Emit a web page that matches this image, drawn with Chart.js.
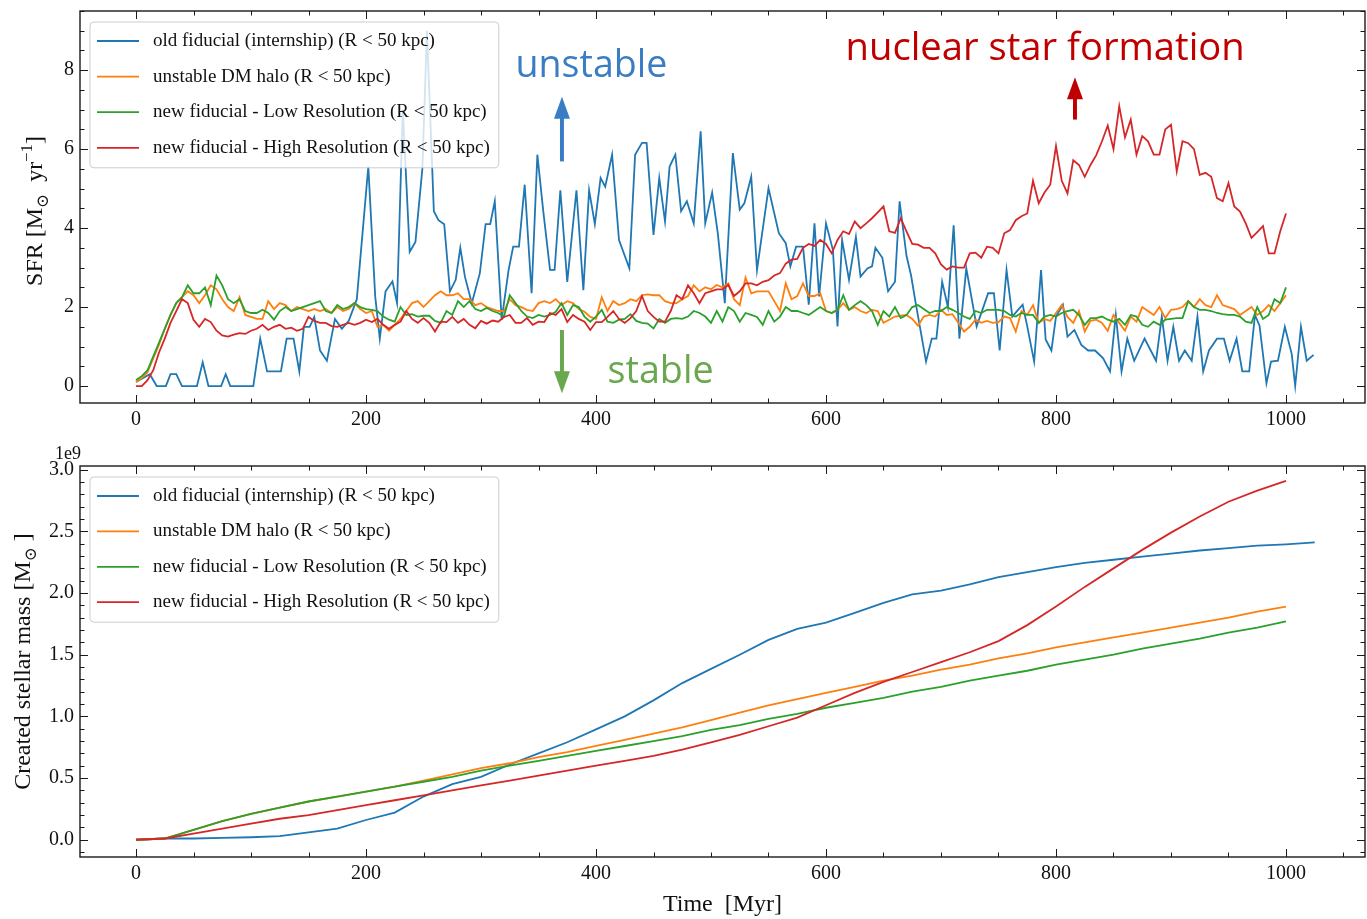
<!DOCTYPE html>
<html>
<head>
<meta charset="utf-8">
<script src="https://cdn.jsdelivr.net/npm/chart.js@4.4.0/dist/chart.umd.min.js"></script>
<style>
  html, body { margin: 0; padding: 0; background: #fff; }
  #wrap { position: relative; width: 1367px; height: 919px; }
  .panel { position: absolute; left: 0; width: 1367px; }
  #top { top: 0; height: 440px; }
  #bottom { top: 440px; height: 479px; }
</style>
</head>
<body>
<div id="wrap">
  <div class="panel" id="top"><canvas id="sfrChart"></canvas></div>
  <div class="panel" id="bottom"><canvas id="massChart"></canvas></div>
</div>
<script>
// ---- data ----
const seriesLabels = [
  'old fiducial (internship) (R < 50 kpc)',
  'unstable DM halo (R < 50 kpc)',
  'new fiducial - Low Resolution (R < 50 kpc)',
  'new fiducial - High Resolution (R < 50 kpc)'
];
const seriesColors = ['#1f77b4', '#ff7f0e', '#2ca02c', '#d62728'];

const xTicks = [0, 200, 400, 600, 800, 1000];
const sfrTicks = [0, 2, 4, 6, 8];
const massTicks = [0, 0.5, 1, 1.5, 2, 2.5, 3];

// old fiducial SFR, read vertex by vertex [Myr]
const oldTime = [0, 12, 18, 26, 30, 35, 40, 53, 58, 63, 74, 78, 82, 102, 108, 114, 126, 131, 137, 142,
  146, 151, 155, 160, 166, 173, 179, 185, 192, 202, 208, 212, 217, 223, 227, 232, 238, 243, 249, 253,
  259, 263, 268, 273, 278, 282, 286, 292, 299, 304, 308, 312, 318, 324, 328, 333, 338, 344, 349, 354,
  360, 364, 369, 375, 383, 389, 394, 399, 404, 408, 414, 420, 429, 434, 440, 444, 450, 455, 460, 464,
  469, 474, 479, 485, 491, 495, 501, 506, 512, 519, 525, 529, 535, 540, 550, 559, 565, 569, 574, 580,
  585, 590, 594, 600, 606, 610, 614, 620, 626, 630, 636, 640, 643, 649, 654, 660, 664, 670, 674, 678,
  687, 692, 696, 701, 706, 711, 716, 722, 731, 736, 741, 746, 751, 757, 762, 767, 771, 775, 781, 787,
  791, 796, 800, 806, 810, 816, 822, 828, 834, 841, 847, 852, 857, 862, 868, 877, 887, 892, 897, 902,
  907, 912, 918, 923, 928, 933, 940, 946, 951, 957, 962, 968, 973, 977, 983, 987, 993, 999, 1005, 1008,
  1013, 1018, 1024];
const oldSfr = [0.1, 0.3, 0.0, 0.0, 0.3, 0.3, 0.0, 0.0, 0.6, 0.0, 0.0, 0.3, 0.0, 0.0, 1.2, 0.37, 0.37, 1.2, 1.2, 0.37,
  1.5, 1.5, 1.75, 0.9, 0.64, 1.7, 1.45, 1.65, 2.2, 5.56, 2.27, 1.2, 2.4, 2.65, 2.1, 7.0, 3.4, 3.65, 5.5, 9.0,
  4.43, 4.2, 4.1, 2.4, 2.69, 3.5, 2.77, 2.1, 2.86, 4.1, 4.1, 4.68, 1.68, 2.94, 3.53, 3.53, 5.1, 2.35, 5.86, 4.47,
  2.94, 2.94, 4.96, 2.64, 4.96, 2.43, 4.96, 4.1, 5.27, 5.05, 5.86, 3.7, 2.98, 5.86, 6.16, 6.16, 3.83, 5.27, 4.17, 5.56,
  5.86, 4.43, 4.68, 4.12, 6.45, 4.12, 4.9, 3.85, 2.1, 5.9, 4.47, 4.63, 5.3, 2.94, 5.01, 3.87, 3.62, 3.03, 3.53, 3.53,
  2.06, 4.12, 2.27, 4.12, 3.45, 1.51, 3.7, 2.69, 3.78, 2.77, 2.98, 3.03, 3.5, 3.25, 2.4, 2.64, 4.68, 3.3, 2.8, 2.1,
  0.62, 1.2, 1.2, 2.64, 2.0, 4.07, 1.2, 2.98, 1.51, 1.93, 2.35, 2.35, 0.9, 2.94, 1.76, 1.93, 2.06, 1.51, 0.62, 2.94,
  1.18, 0.9, 1.76, 2.06, 1.25, 1.42, 1.04, 0.9, 0.9, 0.7, 0.37, 1.8, 0.37, 1.2, 0.64, 1.2, 0.64, 1.76, 0.64, 1.5,
  0.64, 0.9, 0.64, 1.76, 0.37, 0.9, 1.2, 1.2, 0.64, 1.2, 0.37, 0.37, 1.8, 1.53, 0.07, 0.62, 0.64, 1.5, 0.81, 0.0,
  1.5, 0.64, 0.79];

// the three newer runs are written out every 5 Myr, 0 ... 1000 Myr
const newTime = Array.from({length: 201}, (_, i) => i * 5);
const unstableSfr = [
  0.1, 0.2, 0.35, 0.7, 1.05, 1.45, 1.8, 2.1, 2.25, 2.4,
  2.3, 2.1, 2.3, 2.55, 2.45, 2.2, 2.0, 1.9, 2.25, 1.8,
  1.75, 1.7, 1.7, 2.15, 1.95, 2.1, 2.05, 1.9, 2.0, 1.95,
  1.9, 1.95, 1.9, 1.95, 1.85, 2.0, 1.9, 1.95, 2.1, 1.95,
  1.85, 1.9, 1.5, 1.55, 1.4, 1.55, 1.7, 1.9, 2.1, 2.15,
  2.0, 2.15, 2.3, 2.4, 2.3, 2.3, 2.35, 2.2, 2.2, 2.05,
  2.1, 2.0, 1.95, 1.9, 1.9, 2.2, 2.05, 2.0, 1.93, 1.9,
  2.1, 2.15, 2.1, 2.2, 2.05, 2.15, 2.1, 1.95, 1.88, 1.75,
  1.7, 2.25, 1.9, 2.15, 2.05, 2.1, 2.2, 2.15, 2.3, 2.32,
  2.3, 2.3, 2.15, 2.1, 2.1, 2.2, 2.28, 2.55, 2.4, 2.5,
  2.45, 2.56, 2.5, 2.6, 2.2, 2.05, 2.75, 2.35, 2.4, 2.4,
  2.4, 2.15, 1.9, 2.6, 2.2, 2.28, 2.6, 2.28, 2.28, 2.35,
  1.9, 1.85, 1.93, 2.1, 1.93, 2.0, 1.9, 1.85, 1.93, 1.9,
  1.6, 1.68, 1.76, 1.78, 1.8, 1.7, 1.53, 1.76, 1.8, 1.76,
  1.93, 1.8, 1.82, 1.6, 1.38, 1.5, 1.68, 1.6, 1.65, 1.6,
  1.62, 1.76, 1.72, 1.38, 1.9, 1.8, 2.05, 1.6, 1.7, 1.65,
  1.85, 2.05, 1.75, 1.6, 1.9, 1.38, 1.65, 1.68, 1.6, 1.4,
  1.8, 1.6, 1.4, 1.76, 1.63, 2.0, 1.9, 1.8, 2.0, 1.72,
  1.93, 1.95, 2.0, 2.15, 2.0, 2.2, 2.05, 2.0, 2.3, 2.05,
  2.0, 1.95, 1.8, 1.9, 2.0, 1.8, 1.9, 2.05, 1.9, 2.1,
  2.3];
const lowResSfr = [
  0.15, 0.25, 0.4, 0.75, 1.1, 1.45, 1.8, 2.1, 2.25, 2.55,
  2.35, 2.35, 2.5, 2.05, 2.8, 2.55, 2.2, 2.1, 2.2, 1.9,
  1.85, 1.85, 1.93, 1.85, 1.68, 1.9, 2.0, 1.9, 1.95, 2.0,
  2.05, 2.1, 2.15, 1.9, 1.85, 2.05, 1.95, 2.0, 2.1, 2.0,
  1.95, 1.93, 1.9, 1.76, 1.68, 1.63, 2.0, 1.8, 1.82, 1.76,
  1.78, 1.78, 1.65, 1.6, 1.9, 1.8, 2.15, 2.0, 2.15, 1.95,
  1.9, 1.98, 1.9, 1.85, 1.76, 2.3, 2.1, 1.9, 1.76, 1.72,
  1.8, 1.76, 1.8, 1.88, 2.1, 1.8, 2.05, 2.0, 1.76, 1.63,
  1.76, 1.93, 1.63, 1.6, 1.68, 1.7, 1.82, 1.65, 1.6, 1.58,
  1.46, 1.7, 1.6, 1.7, 1.72, 1.7, 1.76, 1.9, 1.85, 1.76,
  1.6, 1.9, 1.63, 2.0, 1.9, 1.63, 1.85, 1.8, 1.75, 1.55,
  1.9, 1.63, 1.76, 2.0, 1.9, 1.9, 1.85, 1.8, 1.9, 2.0,
  1.9, 1.85, 1.93, 2.3, 1.93, 2.05, 2.15, 2.05, 1.9, 1.55,
  1.9, 1.76, 2.0, 1.72, 1.8, 2.0, 2.05, 1.95, 1.85, 1.9,
  1.9, 2.0, 1.93, 1.85, 1.76, 1.7, 1.9, 1.85, 1.93, 1.93,
  1.93, 1.9, 1.8, 1.76, 1.85, 1.8, 1.8, 1.6, 1.76, 1.8,
  1.76, 1.85, 1.9, 1.93, 1.8, 1.55, 1.72, 1.72, 1.76, 1.68,
  1.63, 1.7, 1.55, 1.8, 1.76, 1.55, 1.5, 1.63, 1.55, 1.68,
  1.7, 1.72, 1.72, 2.15, 2.0, 1.93, 1.93, 1.9, 1.85, 1.82,
  1.8, 1.8, 1.76, 1.63, 1.6, 2.0, 1.7, 1.8, 2.2, 2.1,
  2.5];
const highResSfr = [
  0.0, 0.0, 0.15, 0.4, 0.85, 1.2, 1.6, 1.9, 2.2, 2.1,
  1.68, 1.5, 1.7, 1.62, 1.4, 1.28, 1.25, 1.3, 1.34, 1.32,
  1.4, 1.45, 1.55, 1.42, 1.5, 1.55, 1.45, 1.48, 1.4, 1.45,
  1.75, 1.65, 1.6, 1.6, 1.52, 1.5, 1.55, 1.6, 1.55, 1.6,
  1.68, 1.62, 1.7, 1.55, 1.45, 1.55, 1.63, 1.9, 1.7, 1.6,
  1.72, 1.6, 1.38, 1.63, 1.62, 1.75, 1.6, 1.7, 1.55, 1.46,
  1.65, 1.58, 1.66, 1.63, 1.75, 1.8, 1.6, 1.6, 1.72, 1.55,
  1.63, 1.62, 1.85, 1.8, 1.95, 1.62, 1.8, 1.7, 1.63, 1.42,
  1.62, 1.62, 1.75, 1.9, 1.7, 1.6, 1.72, 1.9, 2.28, 1.9,
  1.75, 1.63, 1.63, 1.9, 2.3, 2.2, 2.55, 2.35, 2.1, 2.35,
  2.4, 2.45, 2.45, 2.56, 2.28, 2.4, 2.6, 2.6, 2.55, 2.64,
  2.68, 2.8, 2.86, 3.1, 3.2, 3.22, 3.5, 3.6, 3.55, 3.7,
  3.6, 3.36, 3.7, 3.92, 3.85, 4.17, 4.0, 4.12, 4.25, 4.4,
  4.55, 3.92, 3.88, 4.25, 3.92, 3.6, 3.58, 3.5, 3.5, 3.36,
  3.08, 2.95, 3.03, 3.0, 3.0, 3.36, 3.38, 3.25, 3.53, 3.5,
  3.36, 3.87, 3.95, 4.2, 4.3, 4.37, 5.2, 4.63, 4.9, 5.1,
  6.08, 5.2, 4.88, 5.72, 5.6, 5.3, 5.6, 5.85, 6.2, 6.6,
  6.0, 7.09, 6.3, 6.75, 5.86, 6.33, 6.2, 5.86, 5.86, 6.5,
  6.62, 5.44, 6.2, 6.15, 6.0, 5.35, 5.4, 5.3, 4.76, 4.68,
  5.14, 4.55, 4.42, 4.12, 3.75, 3.9, 4.05, 3.36, 3.36, 3.92,
  4.37];

// created stellar mass, units of 1e9 Msun, every 25 Myr
const massTime = [0, 25, 50, 75, 100, 125, 150, 175, 200, 225, 250, 275, 300, 325, 350, 375, 400, 425, 450, 475,
  500, 525, 550, 575, 600, 625, 650, 675, 700, 725, 750, 775, 800, 825, 850, 875, 900, 925, 950, 975, 1000, 1025];
const oldMass = [0.0, 0.01, 0.01, 0.015, 0.02, 0.03, 0.06, 0.09, 0.16, 0.22, 0.35, 0.45, 0.51, 0.61, 0.7, 0.79, 0.895, 1.0, 1.13, 1.27,
  1.385, 1.5, 1.62, 1.71, 1.76, 1.84, 1.92, 1.99, 2.02, 2.07, 2.13, 2.17, 2.21, 2.245, 2.27, 2.295, 2.32, 2.345, 2.365, 2.385, 2.395, 2.41];
const unstableMass = [0.0, 0.01, 0.08, 0.15, 0.21, 0.26, 0.31, 0.35, 0.39, 0.43, 0.48, 0.53, 0.58, 0.62, 0.67, 0.71, 0.76, 0.81, 0.86, 0.91,
  0.97, 1.03, 1.09, 1.14, 1.19, 1.24, 1.29, 1.33, 1.38, 1.42, 1.47, 1.51, 1.56, 1.6, 1.64, 1.68, 1.72, 1.76, 1.8, 1.85, 1.89];
const lowResMass = [0.0, 0.01, 0.08, 0.15, 0.21, 0.26, 0.31, 0.35, 0.39, 0.43, 0.47, 0.51, 0.56, 0.6, 0.64, 0.68, 0.72, 0.76, 0.8, 0.84,
  0.89, 0.93, 0.98, 1.02, 1.07, 1.11, 1.15, 1.2, 1.24, 1.29, 1.33, 1.37, 1.42, 1.46, 1.5, 1.55, 1.59, 1.63, 1.68, 1.72, 1.77];
const highResMass = [0.0, 0.01, 0.05, 0.09, 0.13, 0.17, 0.2, 0.24, 0.28, 0.32, 0.36, 0.4, 0.44, 0.48, 0.52, 0.56, 0.6, 0.64, 0.68, 0.73,
  0.79, 0.85, 0.92, 0.99, 1.09, 1.19, 1.28, 1.36, 1.44, 1.52, 1.61, 1.74, 1.89, 2.05, 2.2, 2.35, 2.49, 2.62, 2.74, 2.83, 2.91];

// hand-placed notes on the SFR panel (data coords)
const notes = [
  {text: 'unstable', t: 330, v: 7.84, width: 152, color: '#3b7dc4'},
  {text: 'stable', t: 410, v: 0.08, width: 106, color: '#6aa84f'},
  {text: 'nuclear star formation', t: 617, v: 8.27, width: 399, color: '#c00000'}
];
const arrows = [
  {t: 370.4, from: 5.69, to: 7.33, color: '#3b7dc4'},
  {t: 370.4, from: 1.42, to: -0.18, color: '#6aa84f'},
  {t: 816.5, from: 6.75, to: 7.82, color: '#c00000'}
];

// axis titles with the small subscript sun / superscript -1
const sfrTitle = [{t: 'SFR [M'}, {t: '\u2299', scale: 0.7, dy: 0.22}, {t: '  yr'}, {t: '\u22121', scale: 0.7, dy: -0.42}, {t: ']'}];
const massTitle = [{t: 'Created stellar mass [M'}, {t: '\u2299', scale: 0.7, dy: 0.22}, {t: ' ]'}];

// ---- drawing ----
const SERIF = "'Liberation Serif', 'DejaVu Serif', serif";
Chart.defaults.font.family = SERIF;
Chart.defaults.color = '#111';

function pts(xs, ys) {
  return ys.map((v, i) => ({x: xs[i], y: v}));
}

function makeSets(pairs) {
  return pairs.map((p, i) => ({
    label: seriesLabels[i],
    data: pts(p[0], p[1]),
    borderColor: seriesColors[i],
    backgroundColor: seriesColors[i],
    borderWidth: 1.8,
    pointRadius: 0,
    tension: 0,
    fill: false,
    order: 3 - i
  }));
}

function drawRotatedTitle(ctx, parts, cx, cy, size) {
  ctx.save();
  ctx.translate(cx, cy);
  ctx.rotate(-Math.PI / 2);
  let total = 0;
  parts.forEach(p => {
    ctx.font = (size * (p.scale || 1)).toFixed(1) + 'px ' + SERIF;
    p.w = ctx.measureText(p.t).width;
    total += p.w;
  });
  let x = -total / 2;
  ctx.fillStyle = '#111';
  ctx.textBaseline = 'alphabetic';
  parts.forEach(p => {
    ctx.font = (size * (p.scale || 1)).toFixed(1) + 'px ' + SERIF;
    ctx.fillText(p.t, x, size * 0.35 + (p.dy || 0) * size);
    x += p.w;
  });
  ctx.restore();
}

// box frame + inward major/minor ticks on all four sides
const frameTicks = {
  id: 'frameTicks',
  afterDraw(chart, args, opts) {
    const {ctx, chartArea: a} = chart;
    const xs = chart.scales.x, ys = chart.scales.y;
    ctx.save();
    ctx.strokeStyle = '#1a1a1a';
    ctx.lineWidth = 1;
    ctx.beginPath();
    const marks = (axis, step, len) => {
      const first = Math.ceil(axis.min / step - 1e-9), last = Math.floor(axis.max / step + 1e-9);
      for (let k = first; k <= last; k++) {
        const p = Math.round(axis.getPixelForValue(k * step)) + 0.5;
        if (axis.isHorizontal()) {
          ctx.moveTo(p, a.bottom); ctx.lineTo(p, a.bottom - len);
          ctx.moveTo(p, a.top); ctx.lineTo(p, a.top + len);
        } else {
          ctx.moveTo(a.left, p); ctx.lineTo(a.left + len, p);
          ctx.moveTo(a.right, p); ctx.lineTo(a.right - len, p);
        }
      }
    };
    marks(xs, opts.xMinor, 4.5);
    marks(xs, opts.xMajor, 8);
    marks(ys, opts.yMinor, 4.5);
    marks(ys, opts.yMajor, 8);
    ctx.stroke();
    ctx.lineWidth = 1.4;
    ctx.strokeRect(a.left, a.top, a.right - a.left, a.bottom - a.top);
    if (opts.offsetText) {
      ctx.font = '18px ' + SERIF;
      ctx.fillStyle = '#111';
      ctx.textBaseline = 'alphabetic';
      ctx.fillText(opts.offsetText, a.left - 25, a.top - 7);
    }
    drawRotatedTitle(ctx, opts.yTitle, opts.yTitleX, (a.top + a.bottom) / 2 + opts.yTitleDy, 24);
    ctx.restore();
  }
};

// matplotlib-like legend box inside the axes
const boxLegend = {
  id: 'boxLegend',
  afterDatasetsDraw(chart, args, opts) {
    const {ctx, chartArea: a} = chart;
    const sets = chart.data.datasets;
    ctx.save();
    ctx.font = opts.size + 'px ' + SERIF;
    const textW = Math.max(...sets.map(d => ctx.measureText(d.label).width));
    const left = a.left + opts.dx, top = a.top + opts.dy;
    const w = 63 + textW + 9, h = opts.rowGap * (sets.length - 1) + 39;
    ctx.beginPath();
    ctx.roundRect(left, top, w, h, 4);
    ctx.fillStyle = 'rgba(255,255,255,0.8)';
    ctx.fill();
    ctx.strokeStyle = 'rgba(200,200,200,0.9)';
    ctx.lineWidth = 1;
    ctx.stroke();
    sets.forEach((d, i) => {
      const ry = top + 19 + i * opts.rowGap;
      ctx.strokeStyle = d.borderColor;
      ctx.lineWidth = d.borderWidth;
      ctx.beginPath();
      ctx.moveTo(left + 7, ry);
      ctx.lineTo(left + 49, ry);
      ctx.stroke();
      ctx.fillStyle = '#111';
      ctx.textBaseline = 'middle';
      ctx.fillText(d.label, left + 63, ry);
    });
    ctx.restore();
  }
};

// coloured call-outs drawn over the SFR panel
const callouts = {
  id: 'callouts',
  afterDraw(chart) {
    const {ctx} = chart;
    const xs = chart.scales.x, ys = chart.scales.y;
    ctx.save();
    arrows.forEach(ar => {
      const px = xs.getPixelForValue(ar.t);
      const p0 = ys.getPixelForValue(ar.from), p1 = ys.getPixelForValue(ar.to);
      const dir = Math.sign(p1 - p0), head = 22, half = 8;
      ctx.strokeStyle = ar.color;
      ctx.fillStyle = ar.color;
      ctx.lineWidth = 4;
      ctx.beginPath();
      ctx.moveTo(px, p0);
      ctx.lineTo(px, p1 - dir * (head - 2));
      ctx.stroke();
      ctx.beginPath();
      ctx.moveTo(px, p1);
      ctx.lineTo(px - half, p1 - dir * head);
      ctx.lineTo(px + half, p1 - dir * head);
      ctx.closePath();
      ctx.fill();
    });
    notes.forEach(n => {
      ctx.font = "40px 'Open Sans'";
      const size = 40 * n.width / ctx.measureText(n.text).width;
      ctx.font = size.toFixed(1) + "px 'Open Sans'";
      ctx.fillStyle = n.color;
      ctx.textBaseline = 'alphabetic';
      ctx.fillText(n.text, xs.getPixelForValue(n.t), ys.getPixelForValue(n.v));
    });
    ctx.restore();
  }
};

function noPad(s) {
  s.paddingTop = 0; s.paddingBottom = 0; s.paddingLeft = 0; s.paddingRight = 0;
}

function xScale(height, title) {
  return {
    type: 'linear',
    min: -48.7,
    max: 1068.7,
    grid: {display: false, drawTicks: false},
    border: {display: false},
    ticks: {font: {size: 20}, color: '#111', padding: 5, maxRotation: 0, autoSkip: false, callback: v => String(v)},
    afterBuildTicks: s => { s.ticks = xTicks.map(v => ({value: v})); },
    afterFit: s => { s.height = height; noPad(s); },
    title: title ? {display: true, text: title, font: {size: 24}, color: '#111', padding: {top: 0, bottom: 0}} : {display: false}
  };
}

function yScale(min, max, ticks, fmt) {
  return {
    type: 'linear',
    min: min,
    max: max,
    grid: {display: false, drawTicks: false},
    border: {display: false},
    ticks: {font: {size: 20}, color: '#111', padding: 6, autoSkip: false, callback: fmt},
    afterBuildTicks: s => { s.ticks = ticks.map(v => ({value: v})); },
    afterFit: s => { s.width = 80; noPad(s); }
  };
}

new Chart(document.getElementById('sfrChart'), {
  type: 'line',
  data: {
    datasets: makeSets([[oldTime, oldSfr], [newTime, unstableSfr], [newTime, lowResSfr], [newTime, highResSfr]])
  },
  options: {
    responsive: true,
    maintainAspectRatio: false,
    animation: false,
    devicePixelRatio: 1,
    layout: {padding: {top: 11, right: 2, left: 0, bottom: 0}},
    scales: {
      x: xScale(37, null),
      y: yScale(-0.43, 9.5, sfrTicks, v => String(v))
    },
    plugins: {
      legend: {display: false},
      tooltip: {enabled: false},
      frameTicks: {xMajor: 200, xMinor: 50, yMajor: 2, yMinor: 0.5, yTitle: sfrTitle, yTitleX: 34, yTitleDy: 4},
      boxLegend: {dx: 10, dy: 11, rowGap: 35.6, size: 19}
    }
  },
  plugins: [frameTicks, boxLegend, callouts]
});

new Chart(document.getElementById('massChart'), {
  type: 'line',
  data: {
    datasets: makeSets([[massTime, oldMass], [massTime, unstableMass], [massTime, lowResMass], [massTime, highResMass]])
  },
  options: {
    responsive: true,
    maintainAspectRatio: false,
    animation: false,
    devicePixelRatio: 1,
    layout: {padding: {top: 26, right: 2, left: 0, bottom: 0}},
    scales: {
      x: xScale(62, 'Time  [Myr]'),
      y: yScale(-0.14, 3.03, massTicks, v => v.toFixed(1))
    },
    plugins: {
      legend: {display: false},
      tooltip: {enabled: false},
      frameTicks: {xMajor: 200, xMinor: 50, yMajor: 0.5, yMinor: 0.1, offsetText: '1e9', yTitle: massTitle, yTitleX: 22, yTitleDy: 0},
      boxLegend: {dx: 10, dy: 11, rowGap: 35.4, size: 19}
    }
  },
  plugins: [frameTicks, boxLegend]
});
</script>
</body>
</html>
